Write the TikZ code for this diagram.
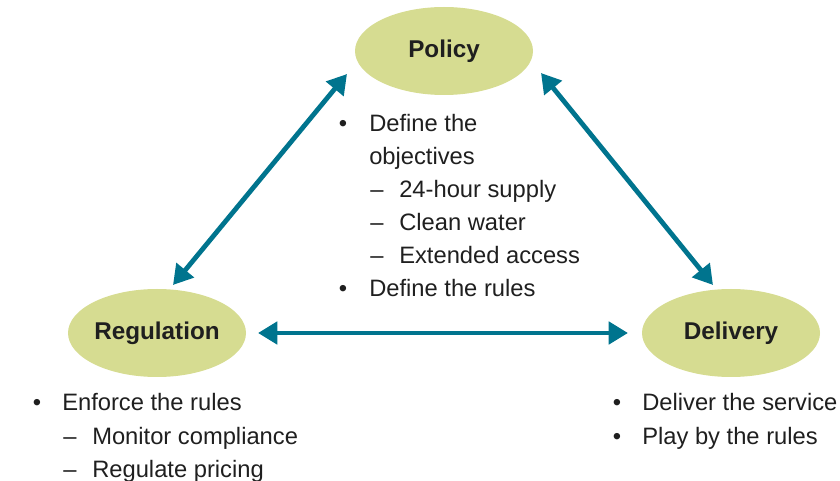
\documentclass[tikz,border=0pt]{standalone}
\usepackage{fontspec}
\setmainfont{Liberation Sans}
\usetikzlibrary{arrows.meta,shapes.geometric}
\definecolor{stagefill}{RGB}{214,220,145}
\definecolor{linkblue}{RGB}{0,116,142}

\begin{document}
\begin{tikzpicture}[
        x=0.75pt, y=-0.75pt,
        every node/.style={inner sep=0pt, font=\fontsize{17.8}{21}\selectfont, text=black!88},
        stage/.style={ellipse, fill=stagefill, minimum width=133.5pt, minimum height=66pt, font=\fontsize{18.2}{21}\selectfont\bfseries},
        point/.style={anchor=base west},
        link/.style={{Triangle[length=14.5pt,width=16.5pt]}-{Triangle[length=14.5pt,width=16.5pt]}, line width=3.6pt, draw=linkblue}
        ]
        \useasboundingbox (0,0) rectangle (840,481);
        \node[stage] (policy) at (444,51) {Policy};
        \node[stage] (regulation) at (157,333) {Regulation};
        \node[stage] (delivery) at (731,333) {Delivery};
        \draw[link] ([shift={(-97,23)}]policy.center) -- ([shift={(16,-48)}]regulation.center);
        \draw[link] ([shift={(97,22)}]policy.center) -- ([shift={(-18,-48)}]delivery.center);
        \draw[link] ([shift={(101,0)}]regulation.center) -- ([shift={(-103,0)}]delivery.center);
        % policy list
        \node[anchor=base] (pb1) at (343,132) {•};
        \node[point] (p1) at (369,132) {Define the};
        \node[point] (p2) at (369,165) {objectives};
        \node[point] (pd1) at (370,198) {–};
        \node[point] (p3) at (399,198) {24-hour supply};
        \node[point] (pd2) at (370,231) {–};
        \node[point] (p4) at (399,231) {Clean water};
        \node[point] (pd3) at (370,264) {–};
        \node[point] (p5) at (399,264) {Extended access};
        \node[anchor=base] (pb2) at (343,297) {•};
        \node[point] (p6) at (369,297) {Define the rules};
        % regulation list
        \node[anchor=base] (rb1) at (37,411) {•};
        \node[point] (r1) at (62,411) {Enforce the rules};
        \node[point] (rd1) at (63,444) {–};
        \node[point] (r2) at (92,444) {Monitor compliance};
        \node[point] (rd2) at (63,477) {–};
        \node[point] (r3) at (92,477) {Regulate pricing};
        % delivery list
        \node[anchor=base] (db1) at (617,411) {•};
        \node[point] (d1) at (642,411) {Deliver the service};
        \node[anchor=base] (db2) at (617,444) {•};
        \node[point] (d2) at (642,444) {Play by the rules};
\end{tikzpicture}
\end{document}
